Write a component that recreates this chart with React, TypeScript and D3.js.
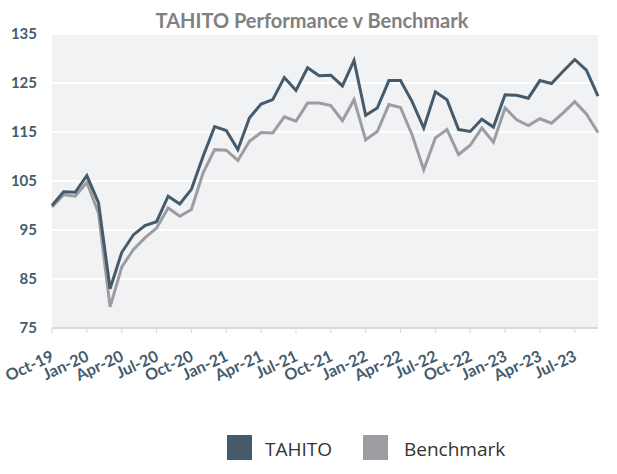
import React from "react";
import * as d3 from "d3";

const months: string[] = (() => {
  const names = ["Jan","Feb","Mar","Apr","May","Jun","Jul","Aug","Sep","Oct","Nov","Dec"];
  const out: string[] = [];
  let m = 9, y = 19;
  for (let k = 0; k < 48; k++) {
    out.push(`${names[m]}-${y}`);
    m++;
    if (m === 12) { m = 0; y++; }
  }
  return out;
})();

const tahito = [
  100, 102.8, 102.7, 106.1, 100.6, 83.0, 90.4, 94.0, 95.9, 96.7, 101.9, 100.3,
  103.3, 110.0, 116.1, 115.3, 111.4, 117.9, 120.7, 121.6, 126.1, 123.5, 128.1, 126.5,
  126.6, 124.4, 129.6, 118.4, 119.9, 125.5, 125.5, 121.2, 115.8, 123.2, 121.6, 115.5,
  115.1, 117.6, 116.0, 122.6, 122.5, 121.9, 125.5, 124.9, 127.4, 129.8, 127.6, 122.3,
];
const benchmark = [
  99.7, 102.2, 101.9, 104.7, 98.5, 79.3, 87.4, 91.0, 93.4, 95.4, 99.5, 97.8,
  99.2, 106.6, 111.4, 111.3, 109.2, 113.1, 114.9, 114.8, 118.1, 117.2, 120.9, 120.9,
  120.4, 117.3, 121.6, 113.4, 115.1, 120.6, 120.0, 114.4, 107.3, 113.8, 115.5, 110.4,
  112.3, 115.8, 112.9, 119.9, 117.5, 116.3, 117.7, 116.8, 118.9, 121.2, 118.7, 114.9,
];
const yTicks = [75, 85, 95, 105, 115, 125, 135];
const xTickLabels = ["Oct-19","Jan-20","Apr-20","Jul-20","Oct-20","Jan-21","Apr-21","Jul-21","Oct-21","Jan-22","Apr-22","Jul-22","Oct-22","Jan-23","Apr-23","Jul-23"];
const seriesNames = ["TAHITO", "Benchmark"];
const seriesColors = ["#455b6c", "#9d9ca2"];

export default function App() {
  const W = 617, H = 474;
  const left = 52, right = 598, top = 34, bottom = 328;
  const x = d3.scalePoint<string>().domain(months).range([left, right]);
  const y = d3.scaleLinear().domain([75, 135]).range([bottom, top]);
  const line = d3.line<number>().x((_, i) => x(months[i]) as number).y(d => y(d));
  const series = [tahito, benchmark];
  return (
    <svg width={W} height={H} style={{ position: "absolute", left: 0, top: 0 }}>
      <rect x={0} y={0} width={W} height={H} fill="#ffffff" />
      <text x={312} y={28} textAnchor="middle" fontFamily="Lato, sans-serif" fontWeight={700} fontSize={20} fill="#808082">
        TAHITO Performance v Benchmark
      </text>
      <rect x={left} y={top} width={right - left} height={bottom - top} fill="#f1f2f4" />
      {yTicks.map(t => (
        <g key={t}>
          <line x1={left} x2={right} y1={y(t)} y2={y(t)} stroke={t === 75 ? "#d9d9dc" : "#ffffff"} strokeWidth={2} />
          <text x={37} y={y(t) + 5} textAnchor="end" fontFamily="Lato, sans-serif" fontWeight={700} fontSize={15} fill="#455b6c">{t}</text>
        </g>
      ))}
      {xTickLabels.map(lbl => {
        const px = x(lbl) as number;
        return (
          <g key={lbl}>
            <line x1={px} x2={px} y1={bottom} y2={bottom + 5} stroke="#d9d9dc" strokeWidth={1} />
            <text transform={`translate(${px + 3},${bottom + 32}) rotate(-25)`} textAnchor="end" fontFamily="Lato, sans-serif" fontWeight={700} fontSize={16} fill="#455b6c">{lbl}</text>
          </g>
        );
      })}
      {series.slice().reverse().map((s, ri) => {
        const idx = series.length - 1 - ri;
        return <path key={idx} d={line(s) || ""} fill="none" stroke={seriesColors[idx]} strokeWidth={3} strokeLinejoin="miter" />;
      })}
      <g fontFamily="'Open Sans', sans-serif" fontSize={19} fill="#333333">
        <rect x={227} y={435} width={25} height={25} fill={seriesColors[0]} />
        <text x={265} y={456}>{seriesNames[0]}</text>
        <rect x={363} y={435} width={25} height={25} fill={seriesColors[1]} />
        <text x={404} y={456}>{seriesNames[1]}</text>
      </g>
    </svg>
  );
}
